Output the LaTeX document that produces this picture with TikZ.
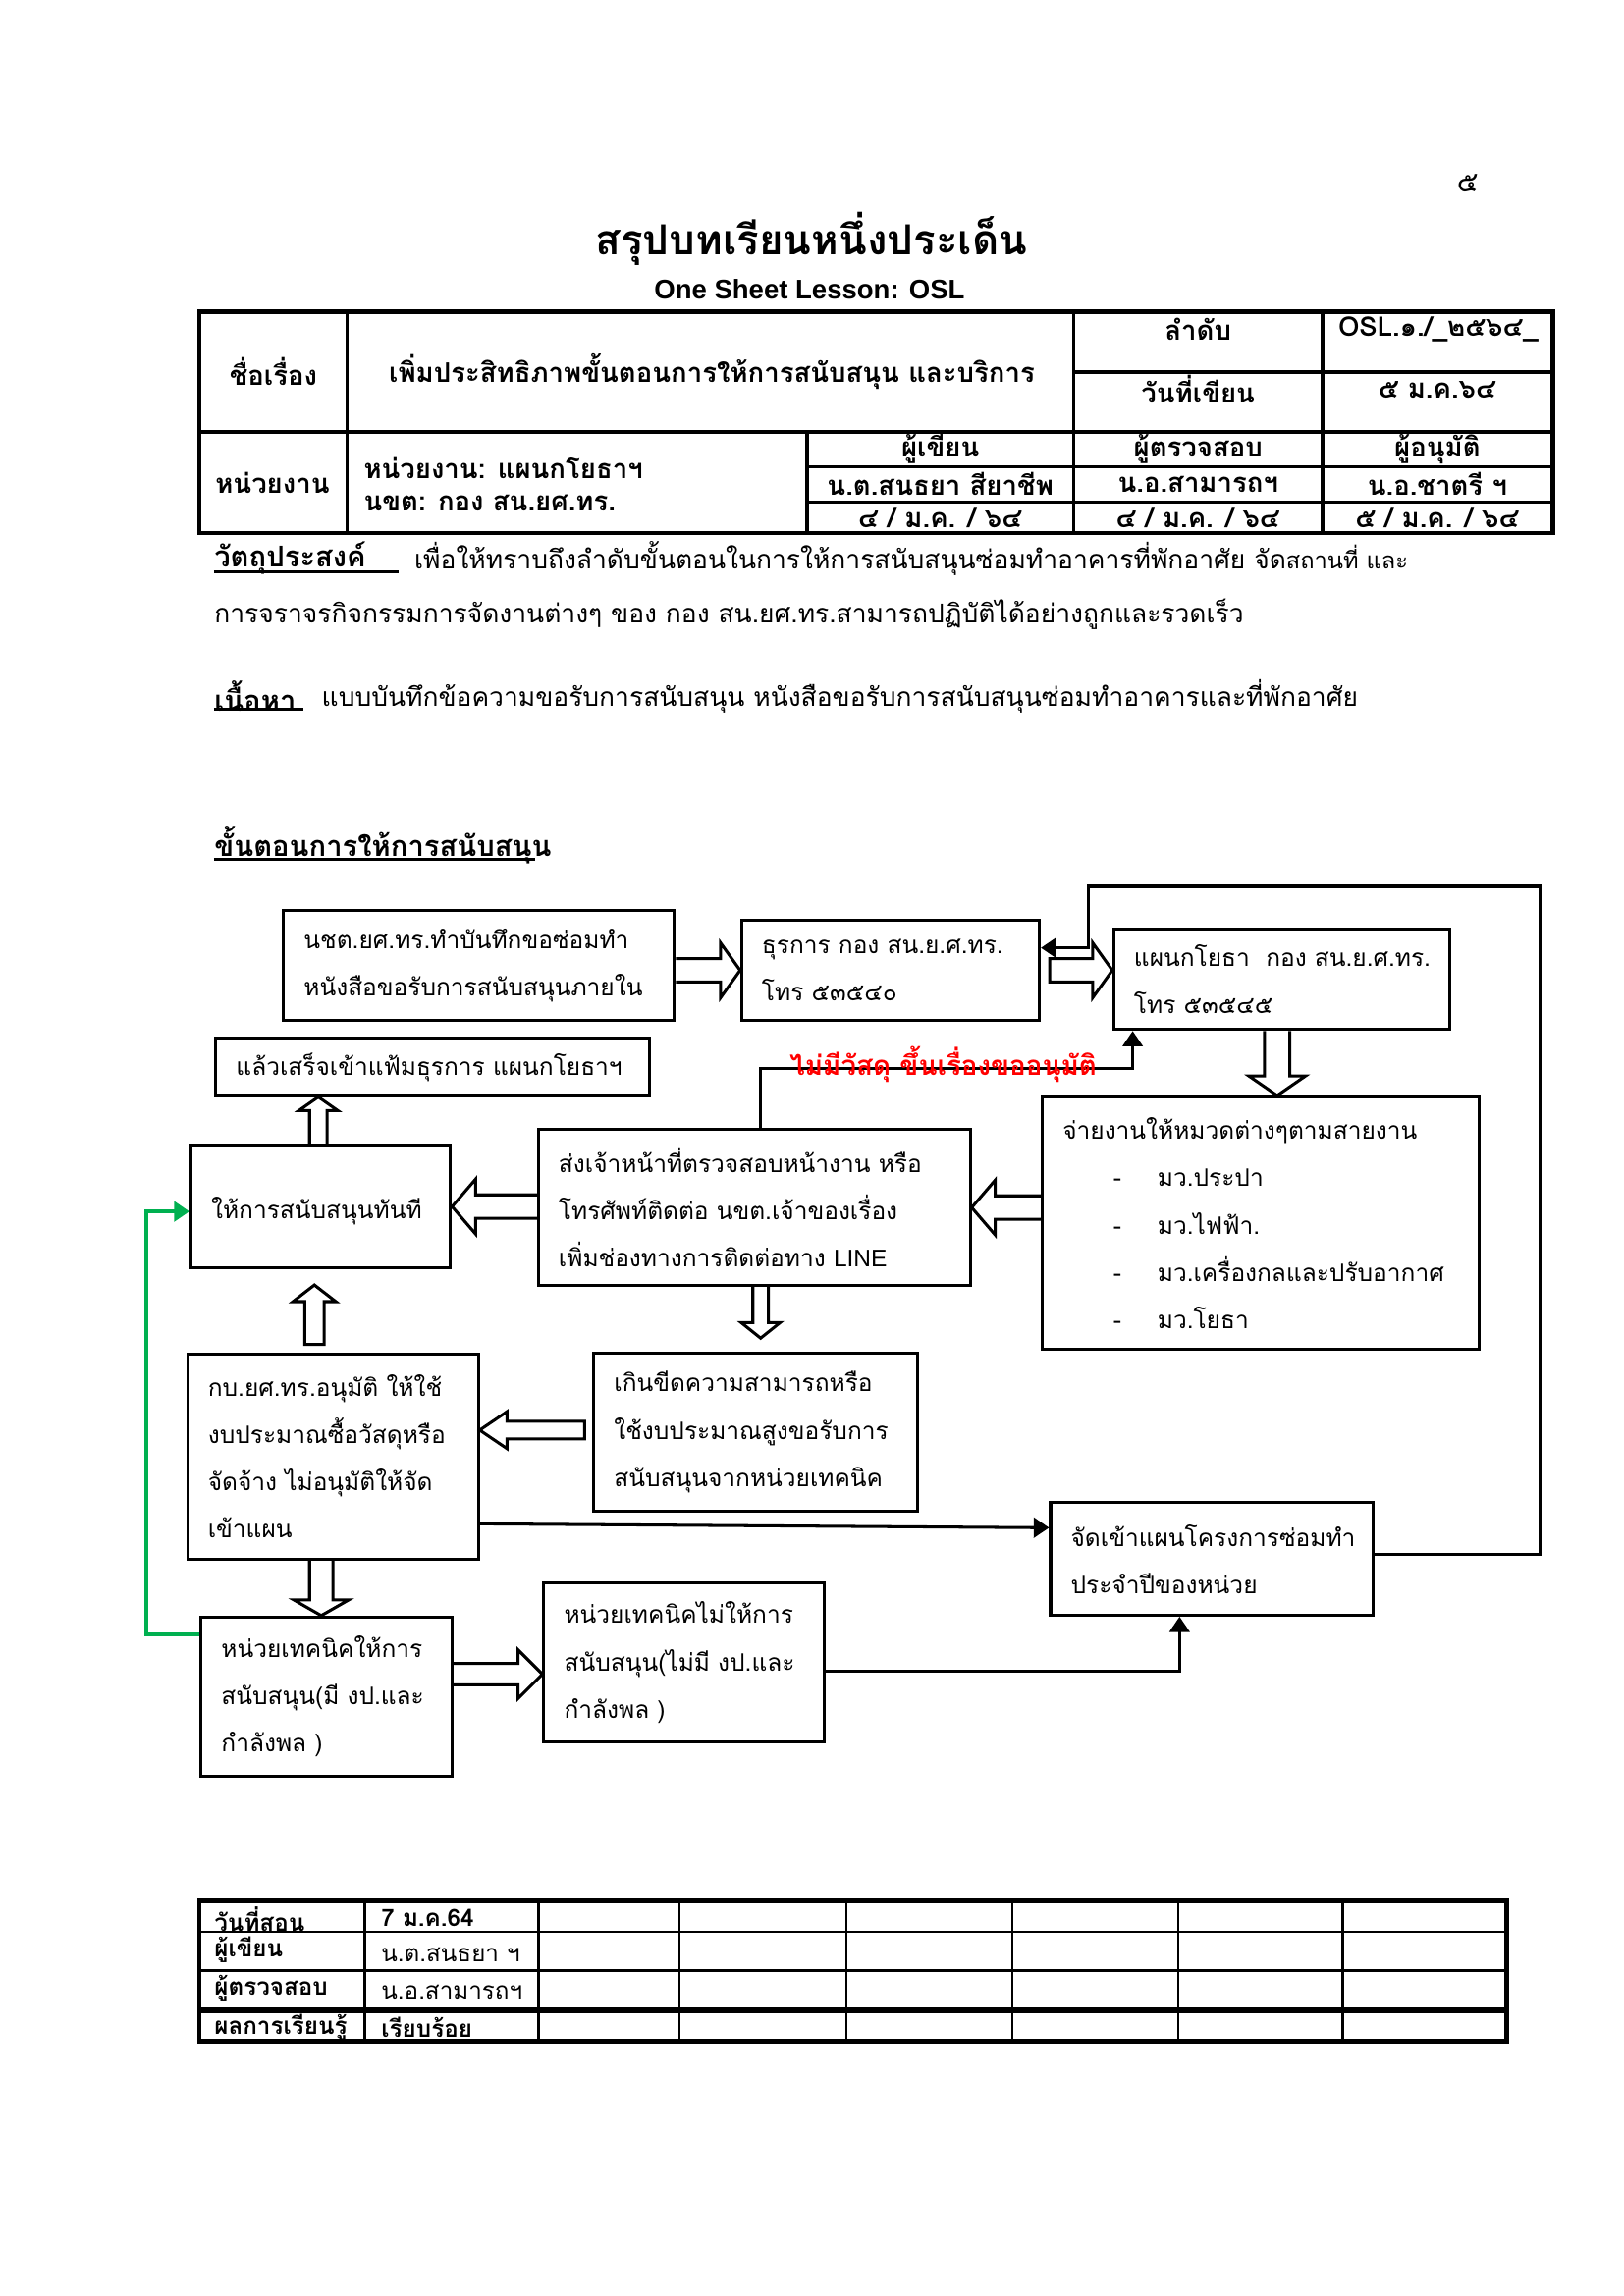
\documentclass[tikz,border=0pt]{standalone}
\usepackage{fontspec}
\usetikzlibrary{calc,arrows.meta}
\newfontfamily\thai[Script=Thai]{Loma}
\newfontfamily\latinb{Liberation Sans}
\definecolor{ogreen}{RGB}{0,176,80}
\definecolor{ored}{RGB}{255,0,0}
\pgfdeclarelayer{bg}
\pgfsetlayers{bg,main}
\newcommand\flowf{\thai\fontsize{8.9}{17.5}\selectfont}
\newcommand\hdrf{\thai\bfseries\fontsize{10}{12}\selectfont}
\newcommand\bodyf{\thai\fontsize{9.6}{14}\selectfont}
\newcommand\btf{\thai\bfseries\fontsize{8.8}{11}\selectfont}
\newcommand{\blockarrow}[6]{%
  \coordinate (bA) at #1;
  \coordinate (bB) at #2;
  \coordinate (bH) at ($(bB)!#5*0.127mm!(bA)$);
  \begin{pgfonlayer}{bg}
  \draw[blockar] ($(bA)!#3*0.127mm!90:(bB)$) -- ($(bH)!#3*0.127mm!90:(bB)$) -- ($(bH)!#4*0.127mm!90:(bB)$) -- (bB) -- ($(bH)!#4*0.127mm!-90:(bB)$) -- ($(bH)!#3*0.127mm!-90:(bB)$) -- ($(bA)!#3*0.127mm!-90:(bB)$) #6;
  \end{pgfonlayer}
}
\begin{document}
\begin{tikzpicture}[x=0.127mm,y=-0.127mm,
  box/.style={draw, line width=1.1pt, align=left, inner xsep=7.5pt, inner ysep=0pt, font=\flowf},
  conn/.style={line width=1.1pt, -{Triangle[length=2mm,width=2.6mm]}},
  blockar/.style={line width=1.1pt, fill=white, line join=miter},
  hdr/.style={font=\hdrf, inner sep=0pt},
  body/.style={font=\bodyf, inner sep=0pt, anchor=west},
  bodyb/.style={font=\thai\bfseries\fontsize{10.6}{14}\selectfont, inner sep=0pt, anchor=west},
  bt/.style={font=\btf, inner sep=0pt, anchor=west},
  btr/.style={font=\thai\fontsize{8.8}{11}\selectfont, inner sep=0pt, anchor=west},
  tline/.style={line width=1.2pt},
  tout/.style={line width=1.7pt}]
\begin{pgfonlayer}{bg}
\fill[white] (0,0) rectangle (1663,2352);
\end{pgfonlayer}
\useasboundingbox (0,0) rectangle (1663,2352);

% page number and titles
\node[font=\thai\fontsize{10.5}{12}\selectfont, inner sep=0pt] (pno) at (1503,188) {๕};
\node[font=\thai\bfseries\fontsize{15.3}{18}\selectfont, inner sep=0pt] (title) at (831,245) {สรุปบทเรียนหนึ่งประเด็น};
\node[font=\latinb\bfseries\fontsize{10}{12}\selectfont, inner sep=0pt] (sub) at (829,296) {One Sheet Lesson: OSL};

% header table
\draw[tout] (204,319.5) rectangle (1590,546);
\draw[tout] (204,442.5) -- (1590,442.5);
\draw[tline] (355.5,319.5) -- (355.5,546);
\draw[tline] (1099.5,319.5) -- (1099.5,546);
\draw[tline] (1354.5,319.5) -- (1354.5,546);
\draw[tline] (1099.5,381) -- (1590,381);
\draw[tline] (826.5,442.5) -- (826.5,546);
\draw[tline] (826.5,478) -- (1590,478);
\draw[tline] (826.5,514) -- (1590,514);

\node[hdr] (h1) at (280,381) {ชื่อเรื่อง};
\node[hdr] (h2) at (729,381) {เพิ่มประสิทธิภาพขั้นตอนการให้การสนับสนุน และบริการ};
\node[hdr] (h3) at (1227,337) {ลำดับ};
\node[hdr, anchor=west] (h4) at (1370,337) {OSL.๑./\_๒๕๖๔\_};
\node[hdr] (h5) at (1227,399) {วันที่เขียน};
\node[hdr] (h6) at (1472,399) {๕ ม.ค.๖๔};
\node[hdr] (h7) at (279,495) {หน่วยงาน};
\node[hdr, anchor=west] (h8) at (372,480) {หน่วยงาน: แผนกโยธาฯ};
\node[hdr, anchor=west] (h9) at (372,515) {นขต: กอง สน.ยศ.ทร.};
\node[hdr] (h10) at (963,460) {ผู้เขียน};
\node[hdr] (h11) at (1227,460) {ผู้ตรวจสอบ};
\node[hdr] (h12) at (1472,460) {ผู้อนุมัติ};
\node[hdr] (h13) at (963,496) {น.ต.สนธยา สียาชีพ};
\node[hdr] (h14) at (1227,496) {น.อ.สามารถฯ};
\node[hdr] (h15) at (1472,496) {น.อ.ชาตรี ฯ};
\node[hdr] (h16) at (963,531) {๔ / ม.ค. / ๖๔};
\node[hdr] (h17) at (1227,531) {๔ / ม.ค. / ๖๔};
\node[hdr] (h18) at (1472,531) {๕ / ม.ค. / ๖๔};

% objective & content
\node[bodyb] (obj) at (219,572) {วัตถุประสงค์};
\draw[line width=1.1pt] (219,586) -- (408,586);
\node[body] (objt) at (424,572) {เพื่อให้ทราบถึงลำดับขั้นตอนในการให้การสนับสนุนซ่อมทำอาคารที่พักอาศัย จัด{\fontsize{8.6}{12}\selectfont สถานที่ และ}};
\node[body] (objt2) at (219,629) {การจราจรกิจกรรมการจัดงานต่างๆ ของ กอง สน.ยศ.ทร.สามารถปฏิบัติได้อย่างถูกและรวดเร็ว};
\node[bodyb] (cont) at (219,713) {เนื้อหา};
\draw[line width=1.1pt] (219,727) -- (311,727);
\node[body] (contt) at (329,713) {แบบบันทึกข้อความขอรับการสนับสนุน หนังสือขอรับการสนับสนุนซ่อมทำอาคารและที่พักอาศัย};
\node[bodyb] (steps) at (219,866) {ขั้นตอนการให้การสนับสนุน};
\draw[line width=1.1pt] (219,880) -- (548,880);

% flowchart boxes
\node[box, minimum width=144.7pt, minimum height=40.5pt, text width=129.6pt] (b1) at (490.5,989) {นชต.ยศ.ทร.ทำบันทึกขอซ่อมทำ\\หนังสือขอรับการสนับสนุนภายใน};
\node[box, minimum width=110.2pt, minimum height=37.3pt, text width=95.2pt] (b2) at (912,994) {ธุรการ~กอง~สน.ย.ศ.ทร.\\โทร~๕๓๕๔๐};
\node[box, minimum width=124.2pt, minimum height=37.3pt, text width=109.2pt] (b3) at (1312.5,1003) {แผนกโยธา~~กอง~สน.ย.ศ.ทร.\\โทร~๕๓๕๔๕};
\node[box, minimum width=160.4pt, minimum height=21.1pt, text width=145.4pt] (b4) at (443,1093) {แล้วเสร็จเข้าแฟ้มธุรการ~แผนกโยธาฯ};
\node[box, minimum width=96.1pt, minimum height=45.4pt, text width=81.1pt] (b5) at (328.5,1236) {\\[-6pt]ให้การสนับสนุนทันที};
\node[box, minimum width=159.8pt, minimum height=57.8pt, text width=144.8pt] (b6) at (772.5,1237) {ส่งเจ้าหน้าที่ตรวจสอบหน้างาน~หรือ\\โทรศัพท์ติดต่อ~นขต.เจ้าของเรื่อง\\เพิ่มช่องทางการติดต่อทาง~{\latinb\fontsize{8.9}{17.5}\selectfont LINE}};
\node[box, minimum width=161.5pt, minimum height=93.4pt, text width=146.5pt] (b7) at (1291,1253) {จ่ายงานให้หมวดต่างๆตามสายงาน\\\hspace*{18.7pt}\makebox[16.4pt][l]{-}มว.ประปา\\\hspace*{18.7pt}\makebox[16.4pt][l]{-}มว.ไฟฟ้า.\\\hspace*{18.7pt}\makebox[16.4pt][l]{-}มว.เครื่องกลและปรับอากาศ\\\hspace*{18.7pt}\makebox[16.4pt][l]{-}มว.โยธา};
\node[box, minimum width=107.5pt, minimum height=76.1pt, text width=92.5pt] (b8) at (341,1492) {กบ.ยศ.ทร.อนุมัติ~ให้ใช้\\งบประมาณซื้อวัสดุหรือ\\จัดจ้าง~ไม่อนุมัติให้จัด\\เข้าแผน};
\node[box, minimum width=119.9pt, minimum height=58.3pt, text width=104.9pt] (b9) at (774,1467) {เกินขีดความสามารถหรือ\\ใช้งบประมาณสูงขอรับการ\\สนับสนุนจากหน่วยเทคนิค};
\node[box, minimum width=119.3pt, minimum height=41.6pt, text width=104.3pt] (b10) at (1241,1597) {จัดเข้าแผนโครงการซ่อมทำ\\ประจำปีของหน่วย};
\node[box, minimum width=92.9pt, minimum height=58.9pt, text width=77.9pt] (b11) at (334.5,1738) {หน่วยเทคนิคให้การ\\สนับสนุน(มี~งป.และ\\กำลังพล~)};
\node[box, minimum width=103.7pt, minimum height=58.9pt, text width=88.7pt] (b12) at (700.5,1703) {หน่วยเทคนิคไม่ให้การ\\สนับสนุน(ไม่มี~งป.และ\\กำลังพล~)};

% block (hollow) arrows
\blockarrow{(b1.east |- 0,994)}{(b2.west |- 0,994)}{12}{28}{20}{}
\blockarrow{($(b2.east |- 0,994)+(9,0)$)}{(b3.west |- 0,994)}{12}{28}{20}{-- cycle}
\blockarrow{(b3.south -| 1308,0)}{(b7.north -| 1308,0)}{13}{29}{20}{}
\blockarrow{(b7.west |- 0,1237)}{(b6.east |- 0,1237)}{12}{28}{24}{}
\blockarrow{(b6.west |- 0,1236)}{(b5.east |- 0,1236)}{12}{28}{24}{}
\blockarrow{(b5.north -| 326,0)}{(b4.south -| 326,0)}{9}{20}{14}{}
\blockarrow{($(b8.north -| 322,0)+(0,-8)$)}{($(b5.south -| 322,0)+(0,16)$)}{10}{22}{17}{-- cycle}
\blockarrow{(b6.south -| 779,0)}{($(b9.north -| 779,0)+(0,-14)$)}{8}{20}{16}{}
\blockarrow{($(b9.west |- 0,1465)+(-8,0)$)}{(b8.east |- 0,1465)}{9}{19}{28}{-- cycle}
\blockarrow{(b8.south -| 329,0)}{(b11.north -| 329,0)}{12}{28}{16}{}
\blockarrow{(b11.east |- 0,1715)}{(b12.west |- 0,1715)}{11}{25}{25}{}

% line connectors
\draw[conn] (b10.east |- 0,1592) -- (1577,1592) -- (1577,908) -- (1115,908) -- (1115,971) -- (b2.east |- 0,971);
\draw[conn] (b6.north -| 779,0) -- (779,1095) -- (1160,1095) -- (b3.south -| 1160,0);
\node[font=\thai\bfseries\fontsize{10.1}{12}\selectfont, text=ored, inner sep=0pt] (lbl) at (966,1090) {ไม่มีวัสดุ ขึ้นเรื่องขออนุมัติ};
\draw[conn] (b8.east |- 0,1561) -- (b10.west |- 0,1565);
\draw[conn] (b12.east |- 0,1712) -- (1208,1712) -- (b10.south -| 1208,0);
\draw[conn, draw=ogreen, line width=1.3pt] (b11.west |- 0,1674) -- (150,1674) -- (150,1241) -- (b5.west |- 0,1241);

% bottom table
\draw[tout] (204,1947) rectangle (1543,2091);
\draw[line width=0.8pt] (204,1979) -- (1543,1979);
\draw[line width=1.1pt] (204,2019) -- (1543,2019);
\draw[line width=2.2pt] (204,2059) -- (1543,2059);
\draw[line width=1.1pt] (374,1947) -- (374,2091);
\draw[line width=1.1pt] (552,1947) -- (552,2091);
\foreach \cx in {696,867,1037,1207,1375} {\draw[line width=0.8pt] (\cx,1947) -- (\cx,2091);}
\node[bt] (r1) at (219,1966) {วันที่สอน};
\node[bt] (r1v) at (390,1965) {7 ม.ค.64};
\node[bt] (r2) at (219,1997) {ผู้เขียน};
\node[btr] (r2v) at (390,2002) {น.ต.สนธยา ฯ};
\node[bt] (r3) at (219,2037) {ผู้ตรวจสอบ};
\node[btr] (r3v) at (390,2041) {น.อ.สามารถฯ};
\node[bt] (r4) at (219,2077) {ผลการเรียนรู้};
\node[bt] (r4v) at (390,2077) {เรียบร้อย};
\end{tikzpicture}
\end{document}
